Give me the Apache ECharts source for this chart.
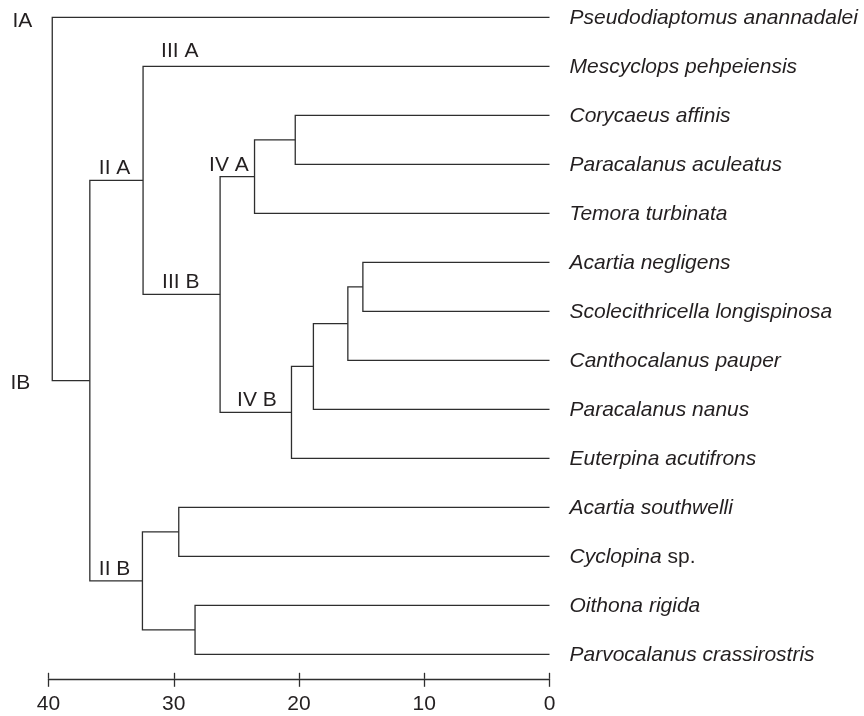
<!DOCTYPE html>
<html>
<head>
<meta charset="utf-8">
<script src="https://cdn.jsdelivr.net/npm/echarts@6/dist/echarts.min.js"></script>
<style>
  html, body { margin: 0; padding: 0; background: #ffffff; }
  #chart { width: 864px; height: 716px; }
</style>
</head>
<body>
<div id="chart"></div>
<script>
// Taxa in leaf order, top to bottom
const species = [
  'Pseudodiaptomus anannadalei',
  'Mescyclops pehpeiensis',
  'Corycaeus affinis',
  'Paracalanus aculeatus',
  'Temora turbinata',
  'Acartia negligens',
  'Scolecithricella longispinosa',
  'Canthocalanus pauper',
  'Paracalanus nanus',
  'Euterpina acutifrons',
  'Acartia southwelli',
  'Cyclopina sp.',
  'Oithona rigida',
  'Parvocalanus crassirostris'
];

// Agglomeration steps: [member A, member B, linkage distance].
// Members 0..13 are the taxa above; member 14 + k is the cluster made at step k.
const merges = [
  [5, 6, 14.9],
  [14, 7, 16.1],
  [15, 8, 18.85],
  [16, 9, 20.6],
  [2, 3, 20.3],
  [18, 4, 23.55],
  [19, 17, 26.3],
  [1, 20, 32.45],
  [10, 11, 29.6],
  [12, 13, 28.3],
  [22, 23, 32.5],
  [21, 24, 36.7],
  [0, 25, 39.7]
];

// Group names and the member whose branch carries each name
const groupNames = ['IA', 'IB', 'II A', 'II B', 'III A', 'III B', 'IV A', 'IV B'];
const groupMembers = [0, 25, 21, 24, 1, 20, 19, 17];

// Distance scale
const distanceTicks = [0, 10, 20, 30, 40];

// ---- styling ----
const INK = '#231f20';
const LINE = '#2e2e2e';
const FONT = '"Liberation Sans", Arial, Helvetica, sans-serif';
const FS = 21;

// Pixel placement of the group names relative to their branch start
const groupPlacement = {
  'IA':    { align: 'right', dx: -20, dy: 3.5 },
  'IB':    { align: 'right', dx: -22, dy: 2.5 },
  'II A':  { align: 'left',  dx: 9,   dy: -12.5 },
  'II B':  { align: 'left',  dx: 9,   dy: -11.5 },
  'III A': { align: 'left',  dx: 18,  dy: -15 },
  'III B': { align: 'left',  dx: 19,  dy: -12.5 },
  'IV A':  { align: 'left',  dx: -11, dy: -11.5 },
  'IV B':  { align: 'left',  dx: 17,  dy: -12.5 }
};

// ---- tree geometry in data space (distance, leaf position) ----
const nLeaf = species.length;
const height = [];
const ypos = [];
const parent = [];
for (let i = 0; i < nLeaf; i++) { height[i] = 0; ypos[i] = i; }
merges.forEach((m, k) => {
  const id = nLeaf + k;
  height[id] = m[2];
  ypos[id] = (ypos[m[0]] + ypos[m[1]]) / 2;
  parent[m[0]] = id;
  parent[m[1]] = id;
});

const linkData = merges.map((m, k) => {
  const a = m[0], b = m[1];
  return [m[2], ypos[nLeaf + k], height[a], ypos[a], height[b], ypos[b]];
});

const leafData = species.map((s, i) => [0, i, i]);

const groupData = groupNames.map((g, i) => {
  const member = groupMembers[i];
  return [height[parent[member]], ypos[member], i];
});

function richName(name) {
  return name.split(' ').map(w => (w === 'sp.' ? '{n|' + w + '}' : '{i|' + w + '}')).join(' ');
}

const chart = echarts.init(document.getElementById('chart'), null, { renderer: 'canvas' });

const baseAxis = {
  type: 'value',
  min: distanceTicks[0],
  max: distanceTicks[distanceTicks.length - 1],
  interval: distanceTicks[1] - distanceTicks[0],
  inverse: true,
  position: 'bottom',
  splitLine: { show: false }
};

chart.setOption({
  animation: false,
  backgroundColor: '#ffffff',
  grid: { left: 48.5, right: 314.5, top: 17.3, bottom: 37.2, containLabel: false },
  xAxis: [
    Object.assign({}, baseAxis, {
      axisLine: { show: true, onZero: false, lineStyle: { color: LINE, width: 1.3 } },
      axisTick: { show: true, inside: false, length: 8, lineStyle: { color: LINE, width: 1.3 } },
      axisLabel: {
        show: true, margin: 15, color: INK, fontSize: FS, fontFamily: FONT,
        showMinLabel: true, showMaxLabel: true
      }
    }),
    Object.assign({}, baseAxis, {
      axisLine: { show: false, onZero: false },
      axisTick: { show: true, inside: true, length: 6, lineStyle: { color: LINE, width: 1.3 } },
      axisLabel: { show: false }
    })
  ],
  yAxis: {
    type: 'value',
    min: 0,
    max: 13.5,
    inverse: true,
    show: false
  },
  series: [
    {
      type: 'custom',
      name: 'links',
      xAxisIndex: 0,
      clip: false,
      data: linkData,
      encode: { x: [0, 2, 4], y: [1, 3, 5] },
      renderItem: function (params, api) {
        const h = api.value(0);
        const pA = api.coord([api.value(2), api.value(3)]);
        const cA = api.coord([h, api.value(3)]);
        const cB = api.coord([h, api.value(5)]);
        const pB = api.coord([api.value(4), api.value(5)]);
        return {
          type: 'polyline',
          shape: { points: [pA, cA, cB, pB] },
          style: { stroke: LINE, lineWidth: 1.3, fill: null }
        };
      }
    },
    {
      type: 'custom',
      name: 'taxa',
      xAxisIndex: 0,
      clip: false,
      data: leafData,
      encode: { x: 0, y: 1 },
      renderItem: function (params, api) {
        const p = api.coord([api.value(0), api.value(1)]);
        return {
          type: 'text',
          x: p[0] + 20,
          y: p[1] + 1,
          style: {
            text: richName(species[api.value(2)]),
            fill: INK,
            fontSize: FS,
            fontFamily: FONT,
            align: 'left',
            verticalAlign: 'middle',
            rich: {
              i: { fontStyle: 'italic', fontSize: FS, fontFamily: FONT, fill: INK },
              n: { fontStyle: 'normal', fontSize: FS, fontFamily: FONT, fill: INK }
            }
          }
        };
      }
    },
    {
      type: 'custom',
      name: 'groups',
      xAxisIndex: 0,
      clip: false,
      data: groupData,
      encode: { x: 0, y: 1 },
      renderItem: function (params, api) {
        const p = api.coord([api.value(0), api.value(1)]);
        const name = groupNames[api.value(2)];
        const pl = groupPlacement[name];
        return {
          type: 'text',
          x: p[0] + pl.dx,
          y: p[1] + pl.dy,
          style: {
            text: name,
            fill: INK,
            fontSize: FS,
            fontFamily: FONT,
            align: pl.align,
            verticalAlign: 'middle'
          }
        };
      }
    }
  ]
});
</script>
</body>
</html>
